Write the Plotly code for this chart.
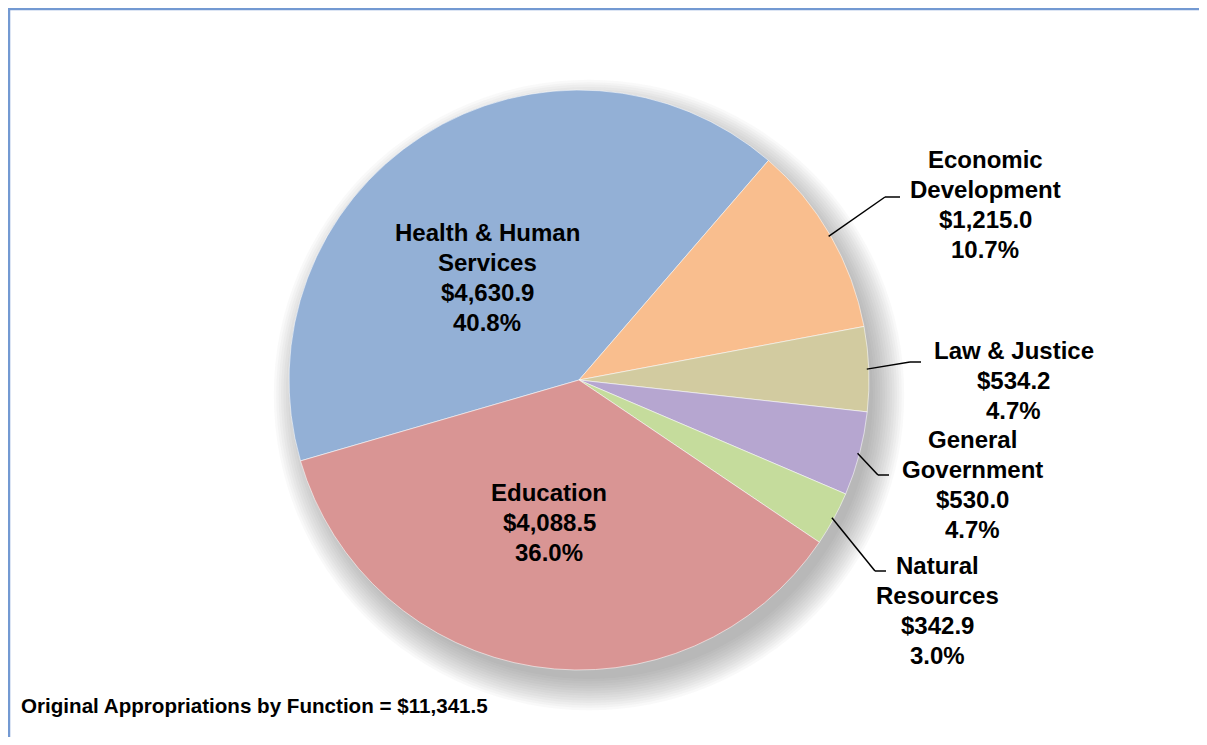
import math
import plotly.graph_objects as go

# ---- data ----
categories = ["Health & Human<br>Services", "Economic<br>Development", "Law & Justice",
              "General<br>Government", "Natural<br>Resources", "Education"]
values = [4630.9, 1215.0, 534.2, 530.0, 342.9, 4088.5]
percents = ["40.8%", "10.7%", "4.7%", "4.7%", "3.0%", "36.0%"]
total_label = "Original Appropriations by Function = $11,341.5"

# ---- style / layout ----
colors = ["#93B0D6", "#F9BE8E", "#D2CBA0", "#B6A6D0", "#C5DC9C", "#D99594"]
W, H = 1207, 745          # window size
OFF = 8                   # html body margin
FW, FH = W - 2 * OFF, H - 2 * OFF
CX, CY, R = 579, 380, 290
ROT = -106.2
FONT = "Liberation Sans, Arial, sans-serif"
LINE = 30.2

def px(x):
    return (x - OFF) / FW

def py(y):
    return 1 - (y - OFF) / FH

# first-line centre of each label block (pixels) and leader elbows for outside labels
label_pos = [(487, 232), (985, 159), (1014, 350), (972, 439), (937, 565), (549, 492)]
leaders = {1: [(885, 197), (900, 197)], 2: [(910, 362), (921, 362)],
           3: [(878, 475), (889, 475)], 4: [(875, 571), (886, 571)]}

fig = go.Figure()
fig.add_trace(go.Pie(
    labels=[c.replace("<br>", " ") for c in categories],
    values=values,
    sort=False,
    direction="clockwise",
    rotation=ROT,
    marker=dict(colors=colors, line=dict(color="rgba(255,255,255,0.55)", width=1)),
    textinfo="none",
    hoverinfo="label+value+percent",
    showlegend=False,
    domain=dict(x=[px(CX - R), px(CX + R)], y=[py(CY + R), py(CY - R)]),
))

shapes = []
# soft shadow, offset to the lower right
for i in range(14):
    rr = R - 6 + i * 2.4
    ox, oy = CX + 10, CY + 15
    shapes.append(dict(type="circle", xref="paper", yref="paper",
                       x0=px(ox - rr), x1=px(ox + rr), y0=py(oy + rr), y1=py(oy - rr),
                       fillcolor="rgba(90,90,90,0.04)", line=dict(width=0), layer="below"))

# border (left and top)
shapes.append(dict(type="line", xref="paper", yref="paper", x0=px(9), x1=px(9), y0=py(8), y1=py(760),
                   line=dict(color="#7399D2", width=2.5)))
shapes.append(dict(type="line", xref="paper", yref="paper", x0=px(8), x1=px(1230), y0=py(9), y1=py(9),
                   line=dict(color="#7399D2", width=2.5)))

# leader lines starting at slice mid-angles computed from data
tot = sum(values)
cum = 0.0
mids = []
for v in values:
    mids.append(ROT + (cum + v / 2) / tot * 360)
    cum += v
for idx, pts in leaders.items():
    a = math.radians(mids[idx])
    sx, sy = CX + (R - 2) * math.sin(a), CY - (R - 2) * math.cos(a)
    path = [(sx, sy)] + pts
    for (x0, y0), (x1, y1) in zip(path[:-1], path[1:]):
        shapes.append(dict(type="line", xref="paper", yref="paper",
                           x0=px(x0), y0=py(y0), x1=px(x1), y1=py(y1),
                           line=dict(color="black", width=1.5)))

annotations = []
for i, cat in enumerate(categories):
    lines = cat.split("<br>") + [f"${values[i]:,.1f}", percents[i]]
    x, y0 = label_pos[i]
    for k, ln in enumerate(lines):
        annotations.append(dict(text=f"<b>{ln}</b>", x=px(x), y=py(y0 + k * LINE),
                                xref="paper", yref="paper", xanchor="center", yanchor="middle",
                                showarrow=False, font=dict(family=FONT, size=24, color="black")))
annotations.append(dict(text=f"<b>{total_label}</b>", x=px(19), y=py(705), xref="paper", yref="paper",
                        xanchor="left", yanchor="middle", showarrow=False,
                        font=dict(family=FONT, size=20.6, color="black")))

fig.update_layout(width=FW, height=FH, margin=dict(l=0, r=0, t=0, b=0),
                  paper_bgcolor="white", plot_bgcolor="white",
                  shapes=shapes, annotations=annotations)
fig.write_html("out.html")
